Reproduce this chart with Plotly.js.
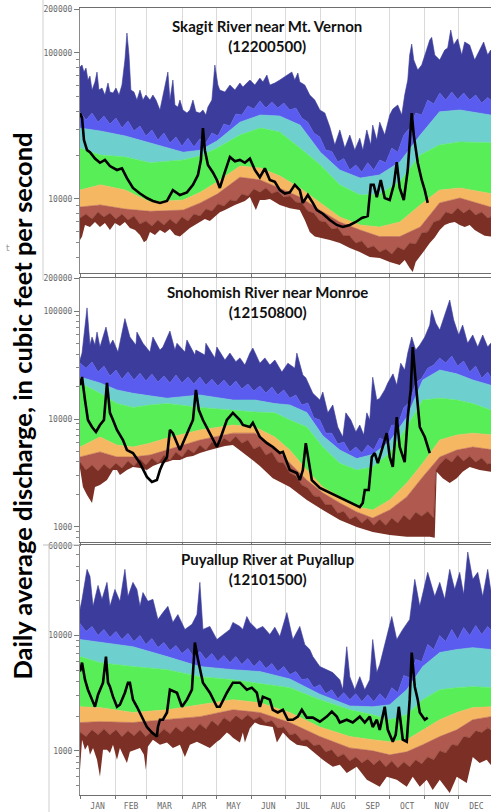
<!DOCTYPE html>
<html><head><meta charset="utf-8">
<script src="https://cdn.plot.ly/plotly-3.0.1.min.js"></script>
<style>html,body{margin:0;padding:0;background:#fff}#chart{width:491px;height:812px}</style>
</head><body><div id="chart"></div>
<script>
// ---------- shared ----------
const monthLabels = ['JAN','FEB','MAR','APR','MAY','JUN','JUL','AUG','SEP','OCT','NOV','DEC'];
const monthStart = [0,31,59,90,120,151,181,212,243,273,304,334];
const bandColors = ['#7c3025','#b05a4f','#f6b763','#57ee58','#6dd0cf','#5a5cef','#3b3c9b'];
// days at which the jagged 95th / 5th percentile edges were read
const jagDay = [0,5.3,10.6,15.9,21.1,26.4,31.7,37,42.3,47.6,52.9,58.1,63.4,68.7,74,79.3,84.6,89.9,95.2,100.4,105.7,111,116.3,121.6,126.9,132.2,137.4,142.7,148,153.3,158.6,163.9,169.2,174.4,179.7,185,190.3,195.6,200.9,206.2,211.5,216.7,222,227.3,232.6,237.9,243.2,248.5,253.7,259,264.3,269.6,274.9,280.2,285.5,290.7,296,301.3,306.6,311.9,317.2,322.5,327.8,333,338.3,343.6,348.9,354.2,359.5,362.1,365];

// ---------- Skagit River near Mt. Vernon (12200500) ----------
const skBandDay = [0,18,40,62,91,106,121,141,159,176,194,212,229,247,264,282,300,317,335,362,365];
const skP90 = [30600,29200,27000,24200,20900,21600,25000,33600,37600,37000,32100,20900,15800,13900,14600,17900,27400,39500,40700,37600,37600];
const skP75 = [22300,20000,19400,17700,18500,19700,22300,27400,30600,28800,22300,17100,12500,10650,10800,13100,20000,23400,24600,24200,24200];
const skP25 = [11500,12500,11500,9540,9840,11100,13100,16800,16300,14400,11900,9400,7530,6640,6430,6960,9100,11500,11900,10900,10900];
const skP10 = [8810,9100,8530,8230,8400,9400,10800,14100,13500,11900,10300,8350,6960,6130,5530,5530,6430,9400,10150,8810,8810];
const skP95 = [39500,34700,38800,33600,37000,32600,35800,30600,34200,29200,31600,27000,29700,25300,28300,24200,26600,23000,26100,22700,25700,24200,28300,27000,32600,31600,38200,37600,43300,41300,46800,42000,46100,42000,45400,40700,42000,35800,33600,28300,26600,21600,21200,17900,18900,15800,17100,15300,17700,15800,18500,17700,22300,20900,27400,30600,38800,37600,47600,44700,53200,47600,54000,48100,53200,47600,51500,45400,49600,47600,47600];
const skP5 = [7410,7890,7300,8140,7530,8010,7300,7890,7180,7650,6750,7070,6540,7180,6640,7300,6750,7530,7070,7890,7650,8530,8270,9250,8960,9840,9690,10800,10500,11700,11100,11900,10900,11300,10300,10500,9540,9400,8270,8010,7070,6960,6230,6330,5580,5580,4990,5160,4610,4770,4330,4540,4200,4690,4470,4990,4920,5850,5950,6960,7180,8140,7890,8670,8010,8530,7770,8140,7410,7530,7530];
const skMaxDay = [0,1.8,3.5,5.3,7,8.8,10.6,13.2,15,16.7,19.4,22,24.7,26.4,29.1,31.7,34.4,37,39.6,41.4,43.2,44.9,47.6,50.2,52.9,55.5,58.1,61.7,64.3,67,70.5,73.1,75.8,77.5,79.3,81.9,83.7,86.3,88.1,90.7,94.3,96.9,99.6,102.2,105.7,108.4,111,112.8,116.3,118.9,121.6,123.3,127.8,132.2,136.6,141,143.6,149.8,154.2,158.6,161.3,164.8,167.4,171.8,176.2,178.9,183.3,186.8,189.4,192.1,193.8,198.2,202.6,207,211.5,215.9,220.3,224.7,229.1,233.5,237.9,242.3,246.7,249.4,252.9,256.4,258.1,261.7,264.3,268.7,273.1,275.8,280.2,283.7,286.3,289,290.7,292.5,294.3,297.8,301.3,305.7,308.4,310.1,312.8,317.2,321.6,324.2,326.9,329.5,333,336.6,339.2,343.6,348,352.4,355.9,359.5,362.1,365];
const skMax = [80000,82700,74000,78800,65300,69500,55700,63300,74000,55700,57500,51500,62300,54000,53200,57500,51500,60300,89500,137000,96800,55700,54000,47600,55700,47600,51500,47600,51500,47600,40700,51500,65300,74000,47600,65300,44000,42600,47600,40700,38800,40700,47600,39500,38800,40700,37600,42600,47600,82700,60300,55700,54000,60300,55700,62300,58400,65300,60300,67300,63300,70600,60300,62300,65300,67300,70600,74000,65300,72900,63300,60300,51500,47600,40700,38800,31100,23400,29700,22300,27400,21600,26100,21600,29700,23400,32100,25300,33600,27400,37600,41300,44000,37600,51500,65300,96800,115000,89500,76400,82700,104700,122700,128000,96800,89500,104700,108000,143600,113300,125000,96800,118900,113300,89500,104700,118900,96800,104700,95000];
const skMinDay = [0,1.8,4.4,8.8,13.2,17.6,22,26.4,30.8,35.2,39.6,44,48.5,52.9,56.4,59,61.7,66.1,70.5,74.9,79.3,83.7,88.1,92.5,96.9,101.3,105.7,110.1,114.5,118.9,123.3,127.8,132.2,136.6,141,145.4,149.8,152.4,155.1,158.6,163,167.4,176.2,185,193.8,198.2,202.6,207,211.5,220.3,229.1,237.9,246.7,255.5,264.3,273.1,281.9,286.3,290.7,293.4,296,299.6,304,308.4,312.8,317.2,321.6,326,330.4,334.8,339.2,343.6,348,352.4,356.8,362.1,365];
const skMin = [5240,5530,6640,6430,6960,6430,6850,6130,6850,6540,6960,6330,6130,5670,5060,5240,5950,5670,6130,5850,6230,5670,5530,5950,6330,6640,6960,7300,7070,7530,8100,8400,8800,9100,9400,9700,10300,9400,8400,9840,9840,10000,9100,8650,8400,7180,5950,5530,5450,5240,4990,4610,4330,4000,3940,3700,3530,3820,3370,3160,3700,4000,4470,4990,5450,6130,6640,6850,6960,6640,6430,6640,6130,5850,5600,5530,5500];
const skObsDay = [0,1.8,3.5,6.2,8.8,13.2,17.6,22,26.4,32.6,37,41.4,46.7,52.9,59,64.3,70.5,76.7,81.9,88.1,94.3,99.6,104,106.6,108.4,110.1,112.8,117.2,120.7,123.3,126.9,132.2,136.6,141,145.4,149.8,154.2,158.6,163,167.4,171.8,176.2,180.6,185,189.4,193.8,196.5,200.9,205.3,208.8,214.1,220.3,226.4,231.7,237.9,243.2,248.5,253.7,256.4,259,261.7,265.2,268.7,273.1,276.7,279.3,281.9,285.5,289,290.7,292.5,294.3,297.8,301.3,304,306.6];
const skObs = [38800,35900,25300,21600,20900,18900,17700,18500,16800,15800,16200,13900,11900,10900,10150,9700,9400,9700,11500,10650,11100,12500,14600,18500,30600,21600,17100,15200,13500,11900,14600,19400,18100,18500,17700,18900,15800,14100,16200,13500,13100,11500,10900,11100,12500,11500,9400,10650,9400,8400,7920,7180,6640,6430,6640,6960,7410,7640,12500,12500,10300,13500,10150,9840,12500,17900,11900,9840,15800,25300,38800,27400,17700,13500,11500,9400];

// ---------- Snohomish River near Monroe (12150800) ----------
const snBandDay = [0,17.6,32.6,46.7,61.7,76.7,105.7,134.8,154.2,171.8,185,200,214.1,229.1,244,258.1,273.1,288.1,302.2,317.2,332.2,346.3,362.1,365];
const snP90 = [24500,21600,18600,17300,16400,15600,16700,15000,15000,13900,13500,11500,7000,5160,4300,4700,6200,10400,23000,28400,26200,23000,20600,20600];
const snP75 = [21600,17300,13900,12800,13500,13900,12800,12100,11600,11400,9790,8440,5510,3900,3370,3600,4840,8440,15000,15600,15000,13900,12100,12100];
const snP25 = [5510,6810,5740,5510,5980,6660,7910,8800,8440,6810,5160,3370,2350,1900,1540,1440,1780,2560,3900,6390,7110,7400,7110,7110];
const snP10 = [4450,4960,4450,4450,4640,5160,6390,7400,7400,5510,3900,2720,2070,1670,1380,1210,1440,1900,2910,4450,5160,5510,5160,5160];
const snP95 = [33000,29600,33700,27200,30900,25000,28400,23400,27200,23000,26600,22500,26100,22000,25000,21600,25500,21600,24500,21100,24500,20600,23400,20200,23000,19800,22500,19000,21100,18200,20200,17400,19800,16700,18600,15600,16700,13500,14100,10300,9790,7400,7400,5860,6130,4960,5510,4840,5740,5160,6660,6260,8800,8800,12700,14400,21600,23900,29600,31600,36700,33000,38300,30900,34400,27200,30900,23900,27200,24500,24500];
const snP5Day = [0,5.3,10.6,15.9,21.1,26.4,31.7,37,42.3,47.6,52.9,58.1,63.4,68.7,74,79.3,84.6,89.9,95.2,100.4,105.7,111,116.3,121.6,126.9,132.2,137.4,142.7,148,153.3,158.6,163.9,169.2,174.4,179.7,185,190.3,195.6,200.9,206.2,211.5,216.7,222,227.3,232.6,237.9,243.2,248.5,253.7,259,264.3,269.6,274.9,280.2,285.5,290.7,296,301.3,306.6,311.9,313.7,317.2,322.5,327.8,333,338.3,343.6,348.9,354.2,359.5,362.1,365];
const snP5 = [4000,3370,3750,3300,3820,3440,3900,3510,4080,3670,4270,3750,4360,3900,4640,4170,4960,4450,5270,4840,5740,5160,6130,5620,6660,6130,6920,5980,6390,5270,5620,4640,4960,4000,3900,3160,2960,2450,2300,1940,1900,1600,1600,1340,1400,1180,1260,1090,1210,1040,1180,1040,1210,1090,1290,1160,1370,1260,1400,1210,3370,3820,4360,4000,4640,4080,4540,4000,4360,3820,3900,3900];
const snMaxDay = [0,1.8,6.2,8.8,10.6,13.2,15,17.6,22.9,26.4,29,33.5,39.6,44,49.3,50.2,55.5,61.7,64.3,70.5,73.1,79.3,83.7,85.5,92.5,94.3,101.3,102.2,110.1,111,118.9,120.7,127.8,132.2,137.4,141,145.4,149.8,152.4,158.6,163,167.4,171.8,178,183.3,189.4,191.2,196.5,199.1,205.3,211.5,214.1,218.5,222.9,227.3,231.7,234.4,238.8,243.2,246.7,250.2,252.9,255.5,258.1,261.7,264.3,268.7,271.4,276,279.3,282.8,286.3,289,292.5,296,299.6,304,308.4,310.1,313.7,317.2,320.7,326,329.5,333.9,337.4,341.8,346.3,350.7,355.1,359.5,362.1,365];
const snMax = [35200,40800,107000,48400,57500,48400,63900,46400,71100,48400,53900,41700,85100,57500,48400,63900,50300,41700,57500,43500,46400,65300,43500,50300,41700,53900,39100,43500,39100,50300,36800,46400,35200,40800,34000,36800,31600,40800,45400,32900,36800,31600,35200,27200,32900,29600,40800,25500,24100,17300,15000,17800,11400,13500,8440,6810,11400,9790,7580,8800,7110,11400,9790,24400,15000,15600,18600,21600,26200,20600,32900,28400,40800,57500,43500,48400,57500,74200,102200,77500,66700,85100,126400,82600,60000,74200,50300,60000,46400,60000,46400,50300,48400];
const snMinDay = [0,2.6,6.2,10.6,13.2,17.6,23.8,29.1,32.6,35.2,41.4,46.7,52.9,59,64.3,70.5,76.7,81.9,88.1,94.3,99.6,105.7,114.5,120.7,127.8,134.8,141,149.8,158.6,170,185,200,214.1,229.1,244,258.1,273.1,288.1,299.6,308.4,312.8,314.5,319.8,326,332.2,337.4,343.6,352.4,362.1,365];
const snMin = [3500,2350,1980,1670,2350,2450,2720,3370,3370,3030,3370,3600,3510,3370,3680,3900,3990,4170,4170,4450,4540,4840,5160,5390,5620,5740,5160,4360,3680,2830,2350,1780,1440,1160,1000,900,843,811,811,811,795,3240,2830,2550,2830,3240,3600,3370,3240,3240];
const snObsDay = [0,1.8,4.4,7,10.6,14.1,17.6,21.1,23.8,26.4,29.1,32.6,37.9,41.4,46.7,52.9,59,63.4,67.8,70.5,73.1,76.7,79.3,81.9,88.1,94.3,99.6,102.2,104.8,108.4,114.5,120.7,123.3,129.5,134.8,141,143.6,149.8,152.4,158.6,164.8,170,176.2,178.9,185,191.2,193.8,196.5,199.1,201.8,204.4,211.5,220.3,229.1,237.9,246.7,249.3,251.1,254.6,257.3,259.9,262.6,266.1,270.5,273.1,275.8,279.3,281.9,286.3,289,291.6,293.4,296.9,299.6,304,308.4];
const snObs = [20600,24500,15000,9790,8440,7580,8800,9790,21600,11400,9790,7910,6390,5160,4840,3900,2910,2610,2720,3370,3900,4450,7910,7400,5160,7400,9790,18600,12100,9790,7400,5510,6390,9790,11400,9790,8800,8440,9230,6810,5980,5510,4840,4960,3370,3160,2720,3370,5980,3900,2720,2300,2070,1860,1670,1530,1670,2200,2200,4450,4840,3900,5160,7400,4450,3600,10400,5510,3990,10400,18600,46400,17300,8440,6810,4840];

// ---------- Puyallup River at Puyallup (12101500) ----------
const puBandDay = [0,17.6,46.7,76.7,105.7,134.8,158.6,185,211.5,237.9,258.1,273.1,288.1,302.2,317.2,332.2,346.3,362.1,365];
const puP90 = [9230,8700,8000,6570,5380,5060,4870,4200,3100,2450,2410,2510,3390,5380,7120,7560,7850,7560,7560];
const puP75 = [6570,5820,5380,5060,4400,4140,3830,3530,2780,2270,2060,1860,2060,2780,3390,3530,3600,3530,3530];
const puP25 = [2410,2370,2150,2270,2510,2780,2610,2150,1610,1330,1250,1200,1250,1520,1860,2150,2370,2410,2410];
const puP10 = [1760,1790,1760,1860,1980,2270,2150,1760,1330,1060,1000,923,980,1130,1330,1520,1860,1980,1980];
const puP95 = [12700,10840,11980,10000,11280,9610,10840,9230,10410,8870,10000,8350,9420,7870,8690,7410,8180,6980,7710,6440,7260,6180,6980,5940,6700,5820,6570,5600,6310,5380,6060,5170,5710,4870,5380,4580,4870,4140,4230,3530,3750,3130,3390,2830,3190,2780,3130,2670,3070,2670,3130,2780,3530,3190,4490,4310,6180,5940,8350,7560,10000,8870,11280,9230,11740,10000,12200,10200,11980,11280,11280];
const puP5 = [1460,1330,1520,1380,1550,1380,1520,1330,1490,1350,1520,1330,1490,1380,1550,1410,1610,1460,1650,1490,1720,1550,1830,1650,1940,1790,2020,1860,2060,1860,1980,1760,1830,1580,1610,1380,1410,1230,1250,1110,1130,980,1020,885,940,818,885,786,850,756,835,727,818,712,802,727,835,771,885,835,1000,960,1130,1110,1330,1300,1490,1440,1580,1520,1520];
const puMaxDay = [0,1.8,6.2,8.8,11.5,15.9,19.4,23.8,26.4,30.8,35.2,39.6,42.3,46.7,50.2,52.9,55.5,59.9,64.3,68.7,73.1,77.5,81.9,86.3,92.5,98.7,103.1,105.7,108.4,114.5,120.7,126,132.2,134.8,141,143.6,147.1,149.8,155.9,161.2,167.4,171.8,176.2,182.4,187.7,193.8,198.2,202.6,205.3,211.5,217.6,222.9,229.1,231.7,235.2,237.9,242.3,246.7,251.1,255.5,258.1,261.7,264.3,270.5,274.9,279.3,284.6,290.7,295.2,299.6,306.6,312.8,317.2,321.6,326,330.4,334.8,338.3,341.9,346.3,350.7,355.1,359.5,362.1,365];
const puMax = [16800,20600,37500,32600,17900,27200,20600,28900,17900,25100,19800,37500,21800,28900,25100,17900,23600,19800,20600,13800,15800,17900,13000,15200,11300,12500,15200,28900,11300,12000,9230,10200,11300,13000,12000,11300,14600,13000,11300,12000,10200,11800,9800,15800,9230,12000,8350,7560,6570,5380,5060,4770,4140,3390,8000,4400,3390,4400,3390,4140,9230,4770,5600,9800,14600,9230,11300,13800,30700,17900,35300,21800,28900,20600,37500,25100,35300,22700,53000,30700,35300,21800,37500,25100,25100];
const puMinDay = [0,1.8,4.4,7,8.8,11.5,15,17.6,20.3,23.8,26.4,29.1,32.6,35.2,37.9,41.4,44,48.5,52.9,56.4,58.1,59.9,64.3,70.5,76.7,81.9,88.1,92.5,96.9,103.1,108.4,114.5,120.7,123.3,129.5,132.2,134.8,141,143.6,145.4,149.8,154.2,158.6,170,173.6,178.9,185,191.2,200,205.3,214.1,222.9,229.1,235.2,244,252.9,264.3,270.5,279.3,288.1,293.4,299.6,305.7,311,317.2,326,332.2,341,346.3,352.4,358.6,362.1,365];
const puMin = [684,1250,1020,1130,923,1060,835,595,1020,1020,960,1130,835,1060,923,786,980,1020,1060,923,684,1090,1250,1130,1180,1060,1130,885,1130,1200,1130,1060,1200,1250,1440,1380,1300,1180,1440,1180,1570,1760,1680,1610,1180,1440,1250,1130,1090,980,835,727,756,642,727,560,488,595,560,488,595,488,560,458,560,430,595,525,885,786,835,756,756];
const puObsDay = [0,1.8,4.4,7,10.6,13.2,15.9,18.5,20.3,22.9,24.7,26.4,29.1,32.6,35.2,39.6,42.3,44,46.7,50.2,52.9,59,63.4,67.8,68.7,70.5,73.1,76.7,79.3,85.5,89.9,94.3,98.7,101.3,104,108.4,114.5,120.7,123.3,129.5,134.8,141,147.1,151.5,155.9,158.6,161.2,167.4,170,174.4,178.9,183.3,187.7,192.1,195.6,200,205.3,211.5,217.6,222,226.4,229.1,235.2,240.5,246.7,251.1,255.5,258.1,261.7,264.3,268.7,271.4,275.8,278.4,281.1,284.6,288.1,290.7,292.5,295.2,297.8,299.6,304,306.6];
const puObs = [4870,5820,4140,3390,2780,2410,3070,3600,3900,6570,3900,3600,2950,2410,2510,3190,3900,3900,2780,2410,2150,1610,1440,1330,1610,1860,1860,2150,3390,3190,2410,2780,3390,8700,6180,3900,3190,2410,2410,3190,3900,3900,3390,3530,3190,2410,2950,2780,2270,2150,2270,1860,1860,1980,2270,1940,1940,1790,1980,2190,1980,1760,1860,1760,1980,1760,1980,1610,1860,1520,2410,1520,1200,1380,2410,1250,1200,2780,7120,3600,2780,2150,1860,1940];

// ---------- build ----------
const traces = [];
function addPanel(n, d) {
  const xa = n === 1 ? 'x' : 'x' + n, ya = n === 1 ? 'y' : 'y' + n;
  traces.push({x: d.minDay, y: d.min, xaxis: xa, yaxis: ya, mode: 'lines', line: {width: 0, color: bandColors[0]}, hoverinfo: 'skip'});
  const seq = [[d.p5Day, d.p5], [d.bandDay, d.p10], [d.bandDay, d.p25], [d.bandDay, d.p75],
               [d.bandDay, d.p90], [d.p95Day, d.p95], [d.maxDay, d.max]];
  seq.forEach(([xs, ys], i) => traces.push({
    x: xs, y: ys, xaxis: xa, yaxis: ya, mode: 'lines', fill: 'tonexty',
    fillcolor: bandColors[i], line: {width: 0.6, color: bandColors[i]}, hoverinfo: 'skip'}));
  traces.push({x: d.obsDay, y: d.obs, xaxis: xa, yaxis: ya, mode: 'lines', line: {color: '#000', width: 2.6}, hoverinfo: 'skip'});
}
addPanel(1, {bandDay: skBandDay, p5Day: jagDay, p5: skP5, p10: skP10, p25: skP25, p75: skP75, p90: skP90, p95Day: jagDay, p95: skP95,
  maxDay: skMaxDay, max: skMax, minDay: skMinDay, min: skMin, obsDay: skObsDay, obs: skObs});
addPanel(2, {bandDay: snBandDay, p5Day: snP5Day, p5: snP5, p10: snP10, p25: snP25, p75: snP75, p90: snP90, p95Day: jagDay, p95: snP95,
  maxDay: snMaxDay, max: snMax, minDay: snMinDay, min: snMin, obsDay: snObsDay, obs: snObs});
addPanel(3, {bandDay: puBandDay, p5Day: jagDay, p5: puP5, p10: puP10, p25: puP25, p75: puP75, p90: puP90, p95Day: jagDay, p95: puP95,
  maxDay: puMaxDay, max: puMax, minDay: puMinDay, min: puMin, obsDay: puObsDay, obs: puObs});

const W = 491, H = 812;
const monthMid = monthStart.map((s, i) => (s + (i < 11 ? monthStart[i + 1] : 365)) / 2);
const tickFont = {family: 'DejaVu Sans Mono, monospace', size: 8, color: '#6a6a6a'};
function xAxis(anchor, showLabels) {
  return {domain: [80 / W, 1], range: [0, 362.4], anchor: anchor, tickmode: 'array', tickvals: monthMid, ticktext: monthLabels,
    ticks: '', showticklabels: showLabels, ticklabelstandoff: 3, tickfont: tickFont, showgrid: false, zeroline: false,
    showline: true, linecolor: '#6e6e6e', linewidth: 1.2, mirror: true,
    minor: {tickmode: 'array', tickvals: monthStart, ticks: 'outside', ticklen: 3, tickcolor: '#777',
            showgrid: true, gridcolor: '#dadada', gridwidth: 1}};
}
function minorLog(lo, hi, majors) {
  const out = [];
  for (let e = 2; e <= 5; e++) for (let m = 1; m <= 9; m++) {
    const v = m * Math.pow(10, e);
    if (v >= lo && v <= hi && !majors.includes(v)) out.push(v);
  }
  return out;
}
function yAxis(anchor, domPx, range, vals) {
  return {domain: [1 - domPx[1] / H, 1 - domPx[0] / H], anchor: anchor, type: 'log', range: range,
    tickmode: 'array', tickvals: vals, ticktext: vals.map(String), ticks: 'outside', ticklen: 5, tickcolor: '#777',
    tickfont: tickFont, showgrid: false, zeroline: false, showline: true, linecolor: '#8a8a8a', linewidth: 1, mirror: true,
    minor: {tickmode: 'array', tickvals: minorLog(Math.pow(10, range[0]), Math.pow(10, range[1]), vals),
            ticks: 'outside', ticklen: 3, tickcolor: '#888', showgrid: false}};
}
const skTicks = [10000, 100000, 200000], snTicks = [1000, 10000, 100000, 200000], puTicks = [1000, 10000, 60000];

const titleFont = {family: 'Lato, Open Sans, sans-serif', size: 15, color: '#111'};
const layout = {
  width: W, height: H, margin: {l: 0, r: 0, t: 0, b: 0}, paper_bgcolor: '#fff', plot_bgcolor: '#fff', showlegend: false,
  xaxis: xAxis('y', false), xaxis2: xAxis('y2', false), xaxis3: xAxis('y3', true),
  yaxis: yAxis('x', [8, 273], [3.493, 5.308], skTicks),
  yaxis2: yAxis('x2', [278, 542], [2.861, 5.306], snTicks),
  yaxis3: yAxis('x3', [545, 795], [2.617, 4.785], puTicks),
  annotations: [
    {xref: 'paper', yref: 'paper', x: 267 / W, y: 1 - 35.5 / H, text: '<b>Skagit River near Mt. Vernon<br>(12200500)</b>', showarrow: false, font: titleFont, xanchor: 'center', yanchor: 'middle'},
    {xref: 'paper', yref: 'paper', x: 267 / W, y: 1 - 302.5 / H, text: '<b>Snohomish River near Monroe<br>(12150800)</b>', showarrow: false, font: titleFont, xanchor: 'center', yanchor: 'middle'},
    {xref: 'paper', yref: 'paper', x: 267 / W, y: 1 - 569 / H, text: '<b>Puyallup River at Puyallup<br>(12101500)</b>', showarrow: false, font: titleFont, xanchor: 'center', yanchor: 'middle'},
    {xref: 'paper', yref: 'paper', x: 21 / W, y: 1 - 406.5 / H, text: '<b>Daily average discharge, in cubic feet per second</b>', textangle: -90, showarrow: false,
     font: {family: 'Lato, Open Sans, sans-serif', size: 25.5, color: '#000'}, xanchor: 'center', yanchor: 'middle'},
    {xref: 'paper', yref: 'paper', x: 8 / W, y: 1 - 248 / H, text: 't', showarrow: false, font: {family: 'DejaVu Sans', size: 9, color: '#999'}, xanchor: 'center', yanchor: 'middle'}
  ],
  shapes: [
    {type: 'line', xref: 'paper', yref: 'paper', x0: 43 / W, x1: 43 / W, y0: 1 - 280 / H, y1: 1, line: {color: '#cfcfcf', width: 1}},
    {type: 'line', xref: 'paper', yref: 'paper', x0: 43 / W, x1: 80 / W, y0: 1 - 545 / H, y1: 1 - 545 / H, line: {color: '#bdbdbd', width: 1}},
    {type: 'line', xref: 'paper', yref: 'paper', x0: 49 / W, x1: 49 / W, y0: 0, y1: 1 - 545 / H, line: {color: '#cfcfcf', width: 1}}
  ]
};
Plotly.newPlot('chart', traces, layout, {staticPlot: true, displayModeBar: false});
</script>
</body></html>
